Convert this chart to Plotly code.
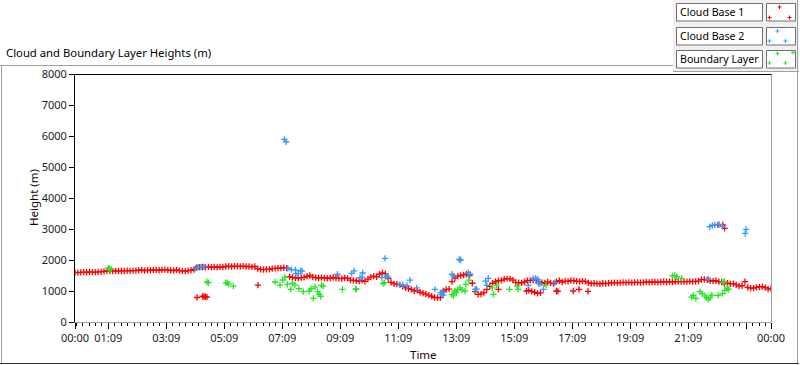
import plotly.graph_objects as go

# ---------------- data ----------------
# Cloud Base 1 (red): regular samples every 0.1 h from 00:00
red_t0 = 0.0
red_step = 0.1
red_main = [
    1600, 1590, 1600, 1610, 1600, 1620, 1610, 1610, 1620, 1620,
    1630, 1650, 1650, 1645, 1650, 1645, 1650, 1650, 1655, 1650,
    1660, 1660, 1670, 1680, 1660, 1670, 1670, 1680, 1680, 1670,
    1680, 1690, 1680, 1670, 1660, 1680, 1660, 1650, 1640, 1660,
    1670, 1690, 1760, 1770, 1775, 1760, 1780, 1770, 1775, 1760,
    1780, 1775, 1790, 1800, 1790, 1800, 1800, 1795, 1800, 1790,
    1790, 1780, 1790, 1720, 1700, 1690, 1700, 1700, 1720, 1730,
    1740, 1740, 1750, 1740, 1460, 1440, 1420, 1420, 1430, 1440,
    1470, 1500, 1450, 1430, 1420, 1430, 1420, 1410, 1420, 1440,
    1420, 1410, 1400, 1420, 1410, 1350, 1340, 1330, 1320, 1340,
    1310, 1380, 1450, 1480, 1460, 1540, 1580, 1560, 1400, 1280,
    1230, 1220, 1200, 1150, 1100, 1080, 1050, 1000, 1020, 960,
    930, 900, 870, 830, 790, 785, 790, 1000, 1050, 1060,
    1300, 1420, 1480, 1500, 1520, 1540, 1500, 1250, 980, 890,
    900, 950, 1050, 1150, 1250, 1300, 1330, 1340, 1380, 1400,
    1390, 1350, 1280, 1270, 1260, 1290, 1330, 1340, 1350, 1340,
    1300, 1270, 1250, 1290, 1260, 1240, 1300, 1330, 1290, 1320,
    1310, 1340, 1330, 1320, 1300, 1320, 1310, 1260, 1240, 1250,
    1240, 1230, 1250, 1240, 1250, 1260, 1270, 1260, 1270, 1280,
    1270, 1280, 1270, 1280, 1280, 1270, 1280, 1290, 1280, 1290,
    1290, 1280, 1290, 1300, 1290, 1300, 1290, 1300, 1300, 1300,
    1300, 1300, 1310, 1300, 1310, 1320, 1370, 1375, 1360, 1330,
    1320, 1330, 1300, 1290, 1240, 1250, 1230, 1240, 1200, 1160,
    1170, 1300, 1120, 1090, 1090, 1120, 1130, 1140, 1110, 1060,
    1080,
]
red_extra_t = [4.21, 4.40, 4.45, 4.50, 4.55, 6.31, 14.60, 15.57, 15.65, 15.75,
               15.85, 15.95, 16.05, 16.60, 16.65, 17.18, 17.38, 17.69, 22.17, 22.34, 22.40]
red_extra_v = [790, 830, 815, 820, 800, 1190, 1050, 1000, 1020, 990,
               960, 925, 940, 1000, 990, 1000, 1050, 990, 3130, 3130, 3020]

# Cloud Base 2 (blue)
blue_t = [4.15, 4.25, 4.35, 4.45,
          7.22, 7.28,
          7.34, 7.46, 7.60, 7.62, 7.70, 7.78, 7.83,
          9.05, 9.54, 9.62, 9.83, 9.90, 9.92,
          10.58, 10.69, 10.75, 10.80,
          11.20, 11.30, 11.45, 11.55, 11.78,
          12.41, 12.60, 12.65, 12.70, 12.68,
          13.05, 13.00, 13.25, 13.30, 13.56, 13.62, 13.80, 13.85,
          14.16, 14.25, 14.20,
          15.63, 15.80, 15.88, 15.95, 15.98, 16.03, 16.15, 16.55,
          21.84, 21.89, 21.98, 22.06, 22.21, 22.33, 23.11, 23.14]
blue_v = [1730, 1760, 1770, 1780,
          5890, 5815,
          1730, 1690, 1680, 1560, 1550, 1660, 1640,
          1540, 1570, 1650, 1430, 1440, 1580,
          1430, 2055, 1480, 1450,
          1200, 1200, 1170, 1350, 1100,
          1050, 940, 900, 870, 960,
          1480, 1540, 2020, 2000, 1590, 1540, 1050, 1060,
          1320, 1410, 1180,
          1180, 1400, 1410, 1380, 1250, 1230, 1050, 1270,
          1375, 3075, 3120, 3130, 3150, 3075, 2860, 2990]

# Boundary Layer (green)
green_t = [1.15, 1.20, 1.25,
           4.55, 4.60,
           5.20, 5.25, 5.30, 5.46,
           6.90, 7.07, 7.16, 7.24, 7.32, 7.44, 7.50, 7.58, 7.72, 7.87, 8.08, 8.14,
           8.22, 8.28, 8.37, 8.42, 8.47, 8.50, 8.56,
           9.22, 9.68, 9.70,
           10.67, 10.62,
           13.00, 13.05, 13.10, 13.15, 13.20, 13.28, 13.35, 13.45, 13.48, 13.58,
           14.39, 14.43, 14.54, 14.98, 15.25, 15.28, 16.24,
           20.60, 20.68, 20.75, 20.92,
           21.26, 21.32, 21.41, 21.55, 21.63, 21.72, 21.78, 21.84, 21.90, 21.96,
           22.18, 22.33, 22.36, 22.41, 22.49, 22.53, 22.38]
green_v = [1740, 1720, 1700,
           1290, 1270,
           1260, 1270, 1220, 1160,
           1290, 1190, 1355, 1450, 1215, 1050, 1250, 1190, 1075, 980, 1000, 1075,
           765, 1130, 980, 890, 830, 1180, 1160,
           1050, 1050, 1070,
           1270, 1240,
           890, 840, 1000, 950, 1050, 1100, 1030, 1000, 1215, 1350,
           1100, 890, 1190, 1050, 1160, 1050, 1190,
           1490, 1500, 1460, 1410,
           805, 860, 765, 980, 915, 840, 785, 730, 785, 870,
           860, 915, 1270, 1020, 1090, 1050, 1300]

series_names = ["Cloud Base 1", "Cloud Base 2", "Boundary Layer"]
series_colors = ["#ff0000", "#3399ff", "#22e622"]

x_tick_vals = [0, 1.15, 3.15, 5.15, 7.15, 9.15, 11.15, 13.15, 15.15, 17.15, 19.15, 21.15, 23.15, 24]
x_tick_text = ["00:00", "01:09", "03:09", "05:09", "07:09", "09:09", "11:09", "13:09",
               "15:09", "17:09", "19:09", "21:09", "", "00:00"]
y_tick_vals = [0, 1000, 2000, 3000, 4000, 5000, 6000, 7000, 8000]

title_text = "Cloud and Boundary Layer Heights (m)"
x_title = "Time"
y_title = "Height (m)"

# ---------------- layout geometry ----------------
W, H = 800, 365
L, R, T, B = 75, 771, 74, 322
PW, PH = R - L, B - T
FONT = "Noto Sans"


def fx(p):
    return (p - L) / PW


def fy(p):
    return (B - p) / PH


red_t = [red_t0 + i * red_step for i in range(len(red_main))] + red_extra_t
red_v = red_main + red_extra_v

fig = go.Figure()
for name, tt, vv, col in zip(series_names, [red_t, blue_t, green_t], [red_v, blue_v, green_v], series_colors):
    fig.add_trace(go.Scatter(
        x=tt, y=vv, mode="markers", name=name, showlegend=False,
        marker=dict(symbol="cross-thin", size=4.5, color=col, line=dict(color=col, width=1.3)),
        cliponaxis=True,
    ))

shapes = []


def line(x0, y0, x1, y1, color, width=1):
    shapes.append(dict(type="line", xref="paper", yref="paper",
                       x0=fx(x0), y0=fy(y0), x1=fx(x1), y1=fy(y1),
                       line=dict(color=color, width=width), layer="above"))


def rect(x0, y0, x1, y1, fill, border=None):
    shapes.append(dict(type="rect", xref="paper", yref="paper",
                       x0=fx(x0), y0=fy(y0), x1=fx(x1), y1=fy(y1),
                       fillcolor=fill,
                       line=dict(color=border if border else fill, width=1 if border else 0),
                       layer="above"))


GRAY = "#a0a0a0"
# legend panel
rect(673, 0, 799, 72, "#f0f0f0")
line(673, 71.5, 799, 71.5, GRAY)
# outer frame
line(0, 65.5, 673, 65.5, GRAY)
line(1.5, 65.5, 1.5, 363.5, GRAY)
line(797.5, 0, 797.5, 363.5, GRAY)
line(0, 363.5, 799, 363.5, "#303030")
# plot area borders
line(75, 74.5, 772, 74.5, "#000000")
line(771.5, 74.5, 771.5, 322, GRAY)

# legend boxes
box_tops = [3.5, 27.5, 50.5]
box_h = 17.5
for top in box_tops:
    rect(676.5, top, 762.5, top + box_h, "#ffffff", "#6e6e6e")
    rect(766.5, top, 795.5, top + box_h, "#ffffff", "#6e6e6e")

# sample marks inside legend swatches
swatch_marks = [
    [(779.5, 7), (769.5, 17.5), (789.5, 17.5)],
    [(777.5, 31), (769.5, 41), (785.5, 41)],
    [(777.5, 53.5), (793, 52.5), (769.5, 63), (785.5, 63)],
]
for marks, col in zip(swatch_marks, series_colors):
    for (cx, cy) in marks:
        line(cx - 2, cy, cx + 2, cy, col, 1)
        line(cx, cy - 2, cx, cy + 2, col, 1)

annotations = [
    dict(text=title_text, x=fx(4), y=fy(53), xref="paper", yref="paper",
         xanchor="left", yanchor="middle", showarrow=False,
         font=dict(family=FONT, size=11.3, color="#000000")),
    dict(text=y_title, x=fx(33), y=fy(198), xref="paper", yref="paper",
         xanchor="center", yanchor="middle", textangle=-90, showarrow=False,
         font=dict(family=FONT, size=11.5, color="#1a0a0a")),
    dict(text=x_title, x=fx(423), y=fy(354), xref="paper", yref="paper",
         xanchor="center", yanchor="middle", showarrow=False,
         font=dict(family=FONT, size=11.5, color="#1a0a0a")),
]
for name, top in zip(series_names, box_tops):
    annotations.append(dict(text=name, x=fx(678), y=fy(top + box_h / 2), xref="paper", yref="paper",
                            xanchor="left", yanchor="middle", showarrow=False,
                            font=dict(family=FONT, size=10.6, color="#000000")))

fig.update_layout(
    width=W, height=H, autosize=False,
    margin=dict(l=L, r=W - R, t=T, b=H - B, pad=0),
    paper_bgcolor="#ffffff", plot_bgcolor="#ffffff",
    font=dict(family=FONT, size=11, color="#1a1a1a"),
    shapes=shapes, annotations=annotations,
    showlegend=False,
    xaxis=dict(range=[0, 24], tickmode="array", tickvals=x_tick_vals, ticktext=x_tick_text,
               showgrid=False, zeroline=False, showline=True, linecolor=GRAY, linewidth=1,
               ticks="outside", ticklen=6, tickcolor="#000000", tickwidth=1,
               tickfont=dict(family=FONT, size=11, color="#1a1a2a"),
               minor=dict(ticks="outside", ticklen=3, tickcolor="#000000", tick0=1.15, dtick=2 / 9,
                          showgrid=False)),
    yaxis=dict(range=[0, 8000], tickmode="array", tickvals=y_tick_vals,
               showgrid=False, zeroline=False, showline=True, linecolor="#000000", linewidth=1,
               ticks="outside", ticklen=5, tickcolor="#000000", tickwidth=1,
               tickfont=dict(family=FONT, size=11, color="#1a1a2a")),
)

fig.write_html("out.html", config={"displayModeBar": False},
               post_script="document.body.style.margin='0';document.body.style.overflow='hidden';")
